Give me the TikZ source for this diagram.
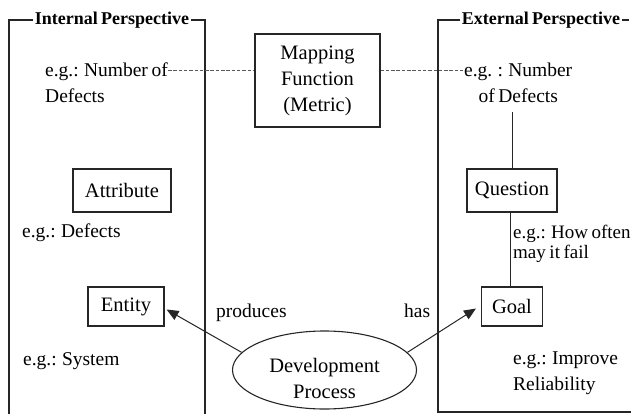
\documentclass[tikz,border=0pt]{standalone}
\usepackage{fontspec}
\setmainfont[WordSpace=0.75]{Liberation Serif}
\usetikzlibrary{arrows.meta,shapes.geometric}
\begin{document}
\begin{tikzpicture}[x=1pt,y=-1pt,
  frame/.style={line width=1.1pt,draw=black!85},
  box/.style={draw=black!85,line width=1.1pt,inner sep=0pt,font=\fontsize{20.5}{26}\selectfont},
  ann/.style={inner sep=0pt,font=\fontsize{19.5}{25.5}\selectfont,align=left},
  ttl/.style={inner sep=0pt,font=\bfseries\fontsize{18}{22}\selectfont},
  dline/.style={line width=0.9pt,draw=black!65,dash pattern=on 3.5pt off 1.8pt},
  arr/.style={line width=1pt,draw=black!85,-{Triangle[length=12pt,width=10pt]}}]
\useasboundingbox (0,0) rectangle (631,414);
% frames
\node[ttl] (tl) at (112,20) {Internal Perspective};
\node[ttl] (tr) at (541,20) {External Perspective};
\draw[frame] ([xshift=-2pt]tl.west) -- (9,20) -- (9,414);
\draw[frame] ([xshift=2pt]tl.east) -- (205,20) -- (205,414);
\draw[frame] ([xshift=-2pt]tr.west) -- (438,20) -- (438,412) -- (631,412);
\draw[frame] ([xshift=2pt]tr.east) -- (629,20);
% boxes
\node[box,minimum width=125pt,minimum height=93pt,align=center] (map) at (317.5,80.5) {Mapping\\Function\\(Metric)};
\node[box,minimum width=98pt,minimum height=43pt] (attr) at (122,190.5) {Attribute};
\node[box,minimum width=76pt,minimum height=39pt] (ent) at (126,306.5) {Entity};
\node[box,minimum width=90pt,minimum height=43pt] (q) at (512,190.5) {Question};
\node[box,minimum width=61pt,minimum height=39pt] (goal) at (512,306.5) {Goal};
\node[draw=black!85,line width=1.1pt,ellipse,minimum width=184pt,minimum height=78pt,inner sep=0pt] (dev) at (324.5,370) {};
\node[inner sep=0pt,align=center,font=\fontsize{20.5}{26}\selectfont] (devt) at (324.5,378) {Development\\Process};
% annotations
\node[ann,anchor=north west] (numL) at (45,63) {e.g.: Number of\\Defects};
\node[ann,anchor=north west,align=center] (numR) at (464,63) {e.g. : Number\\of Defects};
\node[ann,anchor=base west] (defL) at (22,237) {e.g.: Defects};
\node[ann,anchor=base west] (sysL) at (23,365) {e.g.: System};
\node[ann,anchor=north west,font=\fontsize{19}{20}\selectfont] (howR) at (513,225) {e.g.: How often\\may it fail};
\node[ann,anchor=north west] (impR) at (513,352) {e.g.: Improve\\Reliability};
\node[ann,anchor=base west] (prod) at (216,317) {produces};
\node[ann,anchor=base west] (has) at (404,317) {has};
% connectors
\coordinate (dl) at ([yshift=-7pt]numL.north east);
\coordinate (dr) at ([xshift=-1pt,yshift=-7pt]numR.north west);
\draw[dline] (dl) -- (map.west |- dl);
\draw[dline] (map.east |- dr) -- (dr);
\draw[line width=1pt,black!85] (q.north) -- ([yshift=-9pt]q.north |- numR.south);
\draw[line width=1pt,black!85] ([xshift=-2pt]q.south) -- ([xshift=-2pt]goal.north);
\draw[arr] (dev.168) -- ([xshift=2pt,yshift=-3pt]ent.east);
\draw[arr] (dev.12) -- ([xshift=-5pt,yshift=-2pt]goal.west);
\end{tikzpicture}
\end{document}
